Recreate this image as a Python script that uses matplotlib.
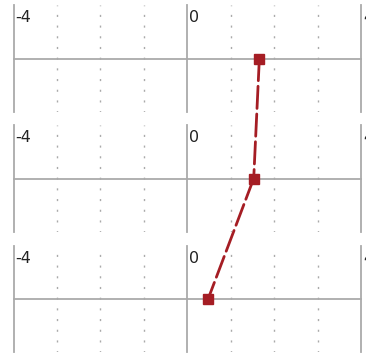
import matplotlib.pyplot as plt
from matplotlib.patches import ConnectionPatch

# values, one point per row (top to bottom)
rows = ["row 1", "row 2", "row 3"]
values = [1.66, 1.53, 0.48]
tick_values = [-4, -3, -2, -1, 0, 1, 2, 3, 4]
label_values = [-4, 0, 4]

grid_color = "#aaaaaa"
point_color = "#a51d24"

fig = plt.figure(figsize=(3.66, 3.53), dpi=100)
W, H = 366.0, 353.0

# panel extents in pixels (top, bottom)
panel_px = [(5, 112), (125, 232), (246, 352)]
left_px, right_px = 13.5, 361.0

axes = []
for (top, bottom) in panel_px:
    ax = fig.add_axes([left_px / W, 1 - bottom / H, (right_px - left_px) / W, (bottom - top) / H])
    ax.set_xlim(-4, 4)
    ax.set_ylim(-1, 1)
    ax.patch.set_visible(False)
    for s in ax.spines.values():
        s.set_visible(False)
    ax.set_xticks([])
    ax.set_yticks([])
    for t in tick_values:
        if t in label_values:
            ax.axvline(t, color=grid_color, lw=1.3, clip_on=False)
        else:
            ax.axvline(t, color=grid_color, lw=1.0, ls=(0.5, (1.5, 6.2)))
    ax.axhline(0, color=grid_color, lw=1.3, clip_on=False)
    for t in label_values:
        ax.annotate(str(t), xy=(t, 1), xycoords=("data", "axes fraction"),
                    xytext=(1.6, -3.5), textcoords="offset points",
                    ha="left", va="top", fontsize=11.5, color="#222222",
                    annotation_clip=False)
    axes.append(ax)

# dashed line joining the points across the panels
for i in range(len(values) - 1):
    con = ConnectionPatch(xyA=(values[i], 0), coordsA=axes[i].transData,
                          xyB=(values[i + 1], 0), coordsB=axes[i + 1].transData,
                          color=point_color, lw=2.0, ls=(0, (8, 2)), zorder=-1)
    fig.add_artist(con)

for ax, v in zip(axes, values):
    ax.plot([v], [0], marker="s", ms=6.6, color=point_color, mec=point_color, zorder=5, clip_on=False)

fig.savefig("out.png", dpi=100)
